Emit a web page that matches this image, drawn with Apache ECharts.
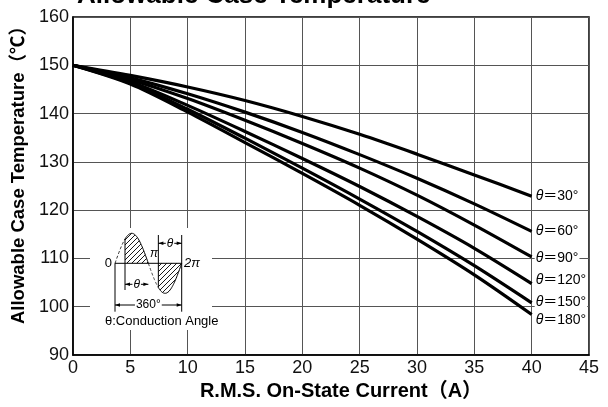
<!DOCTYPE html>
<html>
<head>
<meta charset="utf-8">
<script src="https://cdn.jsdelivr.net/npm/echarts@6/dist/echarts.min.js"></script>
<style>html,body{margin:0;padding:0;background:#fff}#c{width:608px;height:407px}</style>
</head>
<body>
<div id="c"></div>
<script>
// ---- data ----
const currentA = [0, 5, 10, 15, 20, 25, 30, 35, 40];
const theta30  = [150, 147.9, 145.5, 142.7, 139.4, 135.7, 131.6, 127.3, 122.9];
const theta60  = [150, 147.4, 144.1, 140.3, 136.1, 131.5, 126.6, 121.3, 115.6];
const theta90  = [150, 147.0, 143.1, 138.6, 133.8, 128.7, 123.1, 116.9, 110.3];
const theta120 = [150, 146.6, 141.7, 136.3, 130.7, 124.9, 118.7, 112.1, 104.8];
const theta150 = [150, 146.3, 140.9, 134.9, 128.7, 122.3, 115.6, 108.5, 100.8];
const theta180 = [150, 146.1, 140.3, 134.0, 127.6, 121.0, 114.0, 106.6, 98.4];
const seriesNames = ['30°', '60°', '90°', '120°', '150°', '180°'];
const xTickLabels = ['0','5','10','15','20','25','30','35','40','45'];
const yTickLabels = ['90','100','110','120','130','140','150','160'];
const titleText = 'Allowable Case Temperature';
const xAxisName = 'R.M.S. On-State Current（A）';
const yAxisName = 'Allowable Case Temperature（℃）';
const insetCaption = 'θ:Conduction Angle';

const FONT = '"Liberation Sans", "Noto Sans CJK JP", sans-serif';
const allSeries = [theta30, theta60, theta90, theta120, theta150, theta180];
const labelOffsetY = [0, 0, 1, -3, -1, 6];

const chart = echarts.init(document.getElementById('c'), null, {renderer: 'canvas'});

// hatch pattern
const pat = document.createElement('canvas');
pat.width = 5; pat.height = 5;
(function(){
  const g = pat.getContext('2d');
  g.fillStyle = '#fff'; g.fillRect(0,0,5,5);
  g.strokeStyle = '#000'; g.lineWidth = 0.9;
  g.beginPath();
  g.moveTo(0,5); g.lineTo(5,0);
  g.moveTo(-1,1); g.lineTo(1,-1);
  g.moveTo(4,6); g.lineTo(6,4);
  g.stroke();
})();

// ---- inset schematic (decorative drawing) ----
function insetGraphics() {
  const B = 263.3, X0 = 115, P = 66.7, A = 30;
  const px = d => X0 + d / 360 * P;
  const py = d => B - A * Math.sin(d * Math.PI / 180);
  const curve = (a, b) => { const pts = []; for (let d = a; d <= b + 0.001; d += 3) pts.push([px(d), py(d)]); return pts; };
  const el = [];
  el.push({type:'rect', shape:{x:90, y:228, width:122, height:102}, style:{fill:'#fff'}});
  const hatch1 = curve(54, 180).concat([[px(180), B], [px(54), B]]);
  const hatch2 = curve(234, 360).concat([[px(360), B], [px(234), B]]);
  el.push({type:'polygon', shape:{points:hatch1}, style:{fill:{image:pat, repeat:'repeat'}, stroke:null}});
  el.push({type:'polygon', shape:{points:hatch2}, style:{fill:{image:pat, repeat:'repeat'}, stroke:null}});
  el.push({type:'polyline', shape:{points:curve(0,54)}, style:{stroke:'#000', lineWidth:0.8, lineDash:[3,2], fill:null}});
  el.push({type:'polyline', shape:{points:curve(54,180)}, style:{stroke:'#000', lineWidth:1, fill:null}});
  el.push({type:'polyline', shape:{points:curve(180,234)}, style:{stroke:'#000', lineWidth:0.7, lineDash:[3,2], fill:null}});
  el.push({type:'polyline', shape:{points:curve(234,360)}, style:{stroke:'#000', lineWidth:1, fill:null}});
  const line = (x1,y1,x2,y2) => el.push({type:'line', shape:{x1,y1,x2,y2}, style:{stroke:'#000', lineWidth:1}});
  line(X0, B, px(360), B);
  line(X0, B, X0, 311.7);
  line(px(360), 235, px(360), 311.7);
  line(px(54), py(54), px(54), 290);
  line(px(234), 235, px(234), py(234));
  const arrow = (x, y, dir) => el.push({type:'polygon', shape:{points:[[x,y],[x-dir*5,y-1.8],[x-dir*5,y+1.8]]}, style:{fill:'#000'}});
  line(px(234), 243.3, px(360), 243.3); arrow(px(234),243.3,-1); arrow(px(360),243.3,1);
  line(px(54), 284.3, px(180), 284.3); arrow(px(54),284.3,-1); arrow(px(180),284.3,1);
  line(X0, 305, px(360), 305); arrow(X0,305,-1); arrow(px(360),305,1);
  const txt = (x, y, t, opts) => el.push({type:'text', x, y, style:Object.assign({text:t, fontSize:12, fontFamily:FONT, fill:'#000', align:'center', verticalAlign:'middle'}, opts||{})});
  txt((px(234)+px(360))/2, 243.3, 'θ', {fontStyle:'italic', backgroundColor:'#fff', padding:[0,1]});
  txt((px(54)+px(180))/2, 284.3, 'θ', {fontStyle:'italic', backgroundColor:'#fff', padding:[0,1]});
  txt((X0+px(360))/2, 305, '360°', {backgroundColor:'#fff', padding:[0,1]});
  txt(112, B, '0', {align:'right', fontSize:13});
  txt(184, B, '2π', {align:'left', fontSize:13, fontStyle:'italic'});
  txt(150, 254, 'π', {align:'left', fontSize:12, fontStyle:'italic'});
  txt(105, 321.7, insetCaption, {align:'left', fontSize:13});
  return el;
}

const option = {
  animation: false,
  backgroundColor: '#fff',
  grid: {left: 73, right: 19, top: 17, bottom: 52, containLabel: false, show: true, borderColor: '#000', borderWidth: 1.5},
  xAxis: {
    type: 'value', min: 0, max: 45, interval: 5,
    name: xAxisName, nameLocation: 'middle', nameGap: 25,
    nameTextStyle: {fontFamily: FONT, fontSize: 20, fontWeight: 'bold', color: '#000', padding: [0, 0, 0, 20]},
    axisLine: {show: true, lineStyle: {color: '#000', width: 1.5}},
    axisTick: {show: false},
    axisLabel: {margin: 4, fontFamily: FONT, fontSize: 18, color: '#111', formatter: (v) => xTickLabels[Math.round(v/5)]},
    splitLine: {show: true, lineStyle: {color: '#555', width: 1}}
  },
  yAxis: {
    type: 'value', min: 90, max: 160, interval: 10,
    name: yAxisName, nameLocation: 'middle', nameGap: 41,
    nameTextStyle: {fontFamily: FONT, fontSize: 18.5, fontWeight: 'bold', color: '#000', padding: [0, 0, 0, 31]},
    axisLine: {show: true, lineStyle: {color: '#000', width: 1.5}},
    axisTick: {show: false},
    axisLabel: {margin: 4, fontFamily: FONT, fontSize: 18, color: '#111', formatter: (v) => yTickLabels[Math.round((v-90)/10)]},
    splitLine: {show: true, lineStyle: {color: '#555', width: 1}}
  },
  graphic: [
    {type: 'text', x: 77, y: 9, style: {text: titleText, fontFamily: FONT, fontSize: 26, fontWeight: 'bold', fill: '#000', verticalAlign: 'bottom'}, z: 10}
  ].concat(insetGraphics().map(g => Object.assign({z: 50}, g))),
  series: allSeries.map((vals, i) => ({
    type: 'line',
    name: seriesNames[i],
    data: currentA.map((x, j) => [x, vals[j]]),
    smooth: 0.3,
    symbol: 'none',
    lineStyle: {color: '#000', width: 3.2},
    z: 3,
    endLabel: {
      show: true, distance: 3, offset: [0, labelOffsetY[i]],
      formatter: '{t|θ}＝' + seriesNames[i],
      fontFamily: FONT, fontSize: 14, color: '#000',
      backgroundColor: '#fff', padding: [1, 1],
      rich: {t: {fontStyle: 'italic', fontFamily: FONT, fontSize: 14, color: '#000'}}
    }
  }))
};
chart.setOption(option);
</script>
</body>
</html>
